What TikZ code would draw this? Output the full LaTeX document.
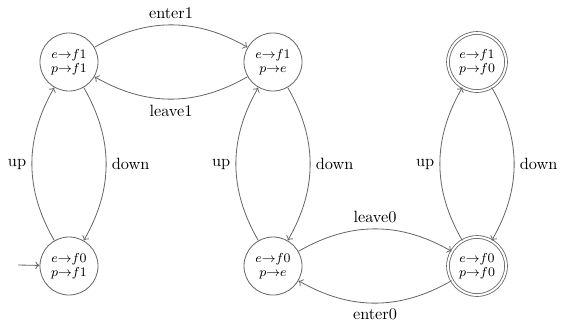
\documentclass[tikz,border=0pt]{standalone}
\usetikzlibrary{arrows.meta}
\begin{document}
\begin{tikzpicture}[x=0.6135pt,y=0.6135pt,
  state/.style={circle, draw=black!60, line width=0.5pt, minimum size=35.6pt, inner sep=0pt, align=center, font=\fontsize{8}{8.6}\selectfont},
  accept/.style={state, double, double distance=1.2pt},
  trans/.style={draw=black!60, line width=0.5pt, -{To[length=2.6pt,width=4.6pt]}, bend left=30},
  lbl/.style={auto, inner sep=3.3pt}]
\useasboundingbox (0,0) rectangle (561,321);
\node[state]  (A) at (69,259) {$e{\to}f1$\\$p{\to}f1$};
\node[state]  (B) at (273,259) {$e{\to}f1$\\$p{\to}e$};
\node[accept] (C) at (477,259) {$e{\to}f1$\\$p{\to}f0$};
\node[state]  (D) at (69,55) {$e{\to}f0$\\$p{\to}f1$};
\node[state]  (E) at (273,55) {$e{\to}f0$\\$p{\to}e$};
\node[accept] (F) at (477,55) {$e{\to}f0$\\$p{\to}f0$};
\coordinate (init) at (18,56);
\draw[draw=black!60, line width=0.5pt, -{To[length=2.6pt,width=4.6pt]}] (init) -- (D);
\path[trans] (A) to node[lbl] {enter1} (B);
\path[trans] (B) to node[lbl] {leave1} (A);
\path[trans] (A) to node[lbl] {down} (D);
\path[trans] (D) to node[lbl] {up} (A);
\path[trans] (B) to node[lbl] {down} (E);
\path[trans] (E) to node[lbl] {up} (B);
\path[trans] (C) to node[lbl] {down} (F);
\path[trans] (F) to node[lbl] {up} (C);
\path[trans] (E) to node[lbl] {leave0} (F);
\path[trans] (F) to node[lbl] {enter0} (E);
\end{tikzpicture}
\end{document}
